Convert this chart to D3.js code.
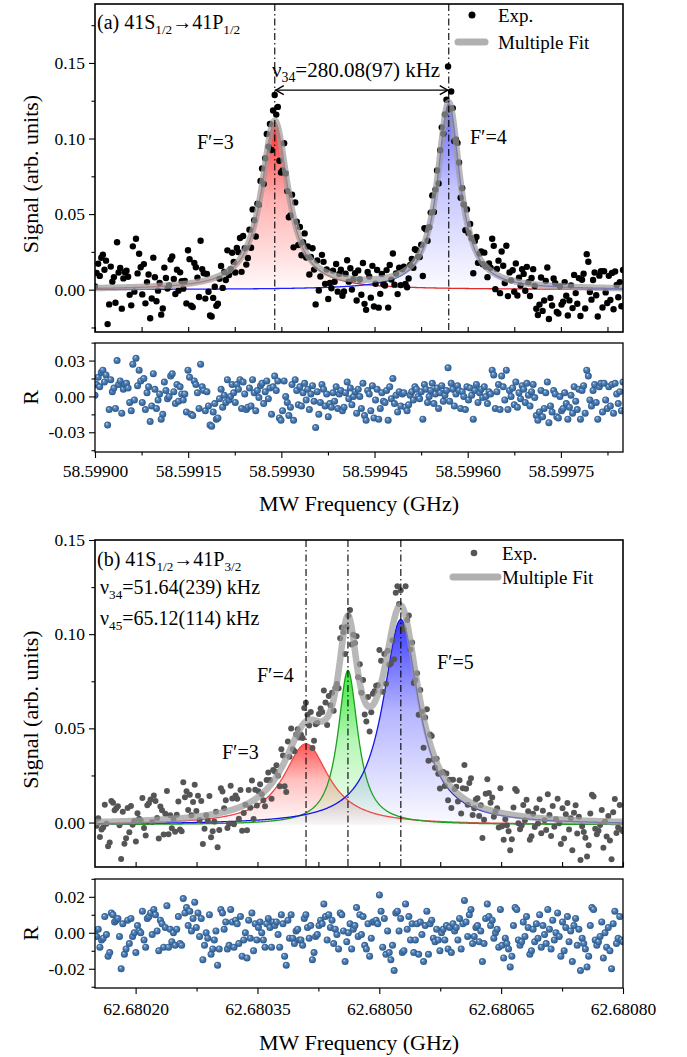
<!DOCTYPE html>
<html>
<head>
<meta charset="utf-8">
<script src="https://cdn.jsdelivr.net/npm/d3@7"></script>
<style>
  body { margin: 0; background: #fff; }
  svg, svg text { font-family: "Liberation Serif", "Times New Roman", serif; }
</style>
</head>
<body>
<div id="chart"></div>
<script>
// ---------- panel (a): 41S1/2 -> 41P1/2 ----------
const xDomainA = [58.59900, 58.59985];          // sweep range (GHz)
const yDomainA = [-0.028, 0.189];
const resDomainA = [-0.0465, 0.0447];
const centersA = [58.5992894, 58.5995695];       // F'=3, F'=4
const ampsA = [0.111, 0.123];
const hwhmA = [0.000026, 0.000022];
const baseA = 0.0;
const xTicksA = [58.59900, 58.59915, 58.59930, 58.59945, 58.59960, 58.59975];
const xMinorA = [58.599075, 58.599225, 58.599375, 58.599525, 58.599675, 58.599825];
const yTicksA = [0.00, 0.05, 0.10, 0.15];
const yMinorA = [-0.025, 0.025, 0.075, 0.125, 0.175];
const rTicksA = [-0.03, 0.00, 0.03];
const rMinorA = [-0.045, -0.015, 0.015, 0.045];
// residuals (exp - fit), in units of 1e-3
const resA = [
  1,10,16,8,20,22,12,18,-24,-11,14,4,7,-10,30,10,13,-14,6,10,11,7,-5,-12,27,-3,32,9,
  22,13,-5,15,-11,3,8,-21,-8,19,6,-10,-3,2,-19,-15,12,5,-2,0,17,19,4,-6,10,-4,8,2,
  -3,2,-13,22,16,-15,-16,13,10,3,-10,27,8,5,-12,4,-8,-24,-25,-13,-6,-19,-18,-2,6,-9,1,-5,
  14,-3,0,10,3,-5,10,6,14,-10,12,2,-11,-9,7,-8,14,3,-12,5,-1,9,11,-6,4,13,-2,7,
  -15,8,17,5,13,-18,-20,-12,13,0,-5,-16,-9,10,-20,14,5,-7,8,-8,3,11,-3,6,-11,2,9,-4,
  -26,4,-15,-5,10,6,-8,2,-17,-6,-9,3,-4,8,-10,2,5,-12,-9,3,12,-2,7,-7,0,4,-14,6,
  0,-10,11,-16,-20,5,2,-12,9,-18,-3,6,-19,-10,3,-4,-5,5,-20,8,-2,15,-6,1,-13,4,-8,2,
  3,-9,-12,-7,1,4,-3,8,6,0,-2,4,-19,10,6,-5,0,5,11,-6,2,7,-10,3,9,-4,1,5,
  24,-4,11,6,-8,2,9,5,-10,4,0,-11,8,-3,7,1,-19,5,10,-5,3,6,-1,8,0,-6,4,2,
  22,18,-10,4,10,-11,17,8,-3,22,-11,5,0,7,-7,12,-9,3,-2,9,6,-5,11,1,-8,4,10,-1,
  -16,-20,-13,5,-17,-10,3,12,-22,-8,-13,5,2,-17,-18,0,-12,-10,3,-6,-19,-9,1,-14,8,-4,-11,6,
  -19,5,9,-14,22,17,-3,-8,5,10,-5,-19,8,11,-13,11,-3,-10,8,-8,10,-14,11,2,-6,4,-12,12
];

// ---------- panel (b): 41S1/2 -> 41P3/2 ----------
const xDomainB = [62.68015, 62.68080];
const yDomainB = [-0.0236, 0.15];
const resDomainB = [-0.0307, 0.0299];
const centersB = [62.6804098, 62.6804614, 62.6805265];   // F'=3, F'=4, F'=5
const ampsB = [0.043, 0.082, 0.109];
const hwhmB = [0.000034, 0.000015, 0.000027];
const baseB = -0.0012;
const xTicksB = [62.68020, 62.68035, 62.68050, 62.68065, 62.68080];
const xMinorB = [62.680275, 62.680425, 62.680575, 62.680725];
const yTicksB = [0.00, 0.05, 0.10, 0.15];
const yMinorB = [0.025, 0.075, 0.125];
const rTicksB = [-0.02, 0.00, 0.02];
const rMinorB = [-0.03, -0.01, 0.01, 0.03];
const resB = [
  1,-2,2,-8,-4,-3,9,-1,-13,-11,11,10,6,7,8,-2,-20,5,-12,-9,7,-6,8,-2,0,-11,4,
  1,0,12,-4,-8,8,9,11,-1,13,10,1,-10,7,5,-8,3,15,-8,2,-5,0,-7,2,9,-6,-7,
  19,11,14,4,12,1,8,17,3,11,-2,8,-15,-7,0,-3,10,-12,-9,-4,1,-18,-9,13,11,2,6,
  -9,-7,13,6,-8,7,5,-6,9,-13,-4,0,-14,7,-3,11,-10,5,-4,3,6,0,-4,-8,5,8,3,
  -8,6,4,6,-1,-8,10,5,-13,-18,7,-3,10,-3,-6,1,2,-4,-4,-7,8,10,3,-3,4,-15,-11,
  -2,-1,4,7,5,16,9,-4,10,3,7,-6,2,-1,-9,11,10,1,-16,-5,0,5,-9,2,4,14,-2,
  10,-1,9,-7,-9,5,-13,-3,6,6,7,5,21,12,-8,8,-12,1,-11,-15,-7,-21,11,12,1,8,-11,
  -10,16,2,9,-4,5,-11,-4,5,-12,6,-1,-16,4,12,-12,5,7,-3,-5,2,-4,-10,0,2,-4,4,
  -9,3,-11,5,1,3,-4,8,-9,5,18,6,-2,10,13,-6,-2,3,4,-5,1,-16,-6,8,16,9,4,
  7,-3,0,2,-8,13,-7,-14,-3,-6,-9,-19,-13,4,14,13,-4,-7,-5,6,-2,9,3,-12,-10,2,-5,
  5,-3,10,-8,4,-1,-6,13,2,-9,7,-4,0,11,-2,-13,6,-10,3,9,-5,1,-16,4,8,-7,2,
  -21,-3,-6,-9,-19,-13,4,14,13,-4,-7,-5,-2,6,-14,0,-8,3,-10,-20,5,12,-6,-3,9,-4,-5
];

// ---------- layout ----------
const W = 687, H = 1057;
const LEFT = 95, RIGHT = 623;
const FONT = 17.5;
const SERIF = "'Liberation Serif', 'Times New Roman', serif";

const svg = d3.select("#chart").append("svg").attr("width", W).attr("height", H);
const defs = svg.append("defs");

// shaded sphere for residual points
const ball = defs.append("radialGradient").attr("id", "ball")
  .attr("cx", "50%").attr("cy", "50%").attr("r", "50%").attr("fx", "35%").attr("fy", "30%");
ball.append("stop").attr("offset", "0%").attr("stop-color", "#e4edf7");
ball.append("stop").attr("offset", "30%").attr("stop-color", "#5b8cc2");
ball.append("stop").attr("offset", "100%").attr("stop-color", "#2a5688");

function lorentz(f, c, a, g) {
  return a * g * g / ((f - c) * (f - c) + g * g);
}

function richText(g, x, y, parts, size) {
  const t = g.append("text").attr("x", x).attr("y", y).style("font-size", size + "px");
  let shifted = false;
  parts.forEach(p => {
    const span = t.append("tspan").text(p[0]);
    if (p[1] && !shifted) { span.attr("dy", size * 0.25).style("font-size", (size * 0.66) + "px"); shifted = true; }
    else if (!p[1] && shifted) { span.attr("dy", -size * 0.25); shifted = false; }
  });
  return t;
}

function drawPanel(p, lay) {
  const x = d3.scaleLinear().domain(p.xDomain).range([LEFT, RIGHT]);
  const y = d3.scaleLinear().domain(p.yDomain).range([lay.bottom, lay.top]);
  const yr = d3.scaleLinear().domain(p.resDomain).range([lay.rBottom, lay.rTop]);
  const g = svg.append("g");

  const n = p.res.length;
  const step = (p.xDomain[1] - p.xDomain[0]) / (n - 1);
  const fit = f => p.base + d3.sum(p.centers, (c, k) => lorentz(f, c, p.amps[k], p.hwhm[k]));
  const pts = p.res.map((r, i) => {
    const f = p.xDomain[0] + i * step;
    return { f: f, r: r / 1000, v: fit(f) + r / 1000 };
  });
  const grid = d3.range(0, 801).map(i => p.xDomain[0] + i * (p.xDomain[1] - p.xDomain[0]) / 800);

  defs.append("clipPath").attr("id", "clip" + p.id).append("rect")
    .attr("x", LEFT).attr("y", lay.top).attr("width", RIGHT - LEFT).attr("height", lay.bottom - lay.top);
  defs.append("clipPath").attr("id", "rclip" + p.id).append("rect")
    .attr("x", LEFT).attr("y", lay.rTop).attr("width", RIGHT - LEFT).attr("height", lay.rBottom - lay.rTop);

  const plot = g.append("g").attr("clip-path", "url(#clip" + p.id + ")");

  // component fills
  p.centers.forEach((c, k) => {
    const gid = "grad" + p.id + k;
    const grad = defs.append("linearGradient").attr("id", gid)
      .attr("x1", 0).attr("y1", 0).attr("x2", 0).attr("y2", 1);
    grad.append("stop").attr("offset", "0%").attr("stop-color", p.fillColors[k]).attr("stop-opacity", 0.95);
    grad.append("stop").attr("offset", "45%").attr("stop-color", p.fillColors[k]).attr("stop-opacity", 0.35);
    grad.append("stop").attr("offset", "100%").attr("stop-color", p.fillColors[k]).attr("stop-opacity", 0.02);
    const comp = f => p.base + lorentz(f, c, p.amps[k], p.hwhm[k]);
    plot.append("path").datum(grid)
      .attr("d", d3.area().x(f => x(f)).y0(y(p.base)).y1(f => y(comp(f))))
      .attr("fill", "url(#" + gid + ")");
  });
  p.centers.forEach((c, k) => {
    const comp = f => p.base + lorentz(f, c, p.amps[k], p.hwhm[k]);
    plot.append("path").datum(grid)
      .attr("d", d3.line().x(f => x(f)).y(f => y(comp(f))))
      .attr("fill", "none").attr("stroke", p.lineColors[k]).attr("stroke-width", 1.3);
  });

  // experimental points
  plot.selectAll(".exp").data(pts).enter().append("circle")
    .attr("cx", d => x(d.f)).attr("cy", d => y(d.v)).attr("r", p.dotR)
    .attr("fill", p.dotColor);

  // multiple fit
  plot.append("path").datum(grid)
    .attr("d", d3.line().x(f => x(f)).y(f => y(fit(f))))
    .attr("fill", "none").attr("stroke", "#9c9c9c").attr("stroke-opacity", 0.72)
    .attr("stroke-width", 6.5).attr("stroke-linejoin", "round");

  // dash-dot markers at line centres
  p.centers.forEach(c => {
    g.append("line").attr("x1", x(c)).attr("x2", x(c)).attr("y1", lay.top).attr("y2", lay.bottom)
      .attr("stroke", "#000").attr("stroke-width", 1.1).attr("stroke-dasharray", "7,3,1.5,3");
  });

  // frames
  g.append("rect").attr("x", LEFT).attr("y", lay.top).attr("width", RIGHT - LEFT).attr("height", lay.bottom - lay.top)
    .attr("fill", "none").attr("stroke", "#000").attr("stroke-width", 1.6);

  // main axes
  g.append("g").attr("transform", "translate(0," + lay.bottom + ")")
    .call(d3.axisBottom(x).tickValues(p.xTicks.concat(p.xMinor)).tickSize(-5).tickFormat(""))
    .call(a => a.select(".domain").remove());
  g.append("g").attr("transform", "translate(" + LEFT + ",0)")
    .call(d3.axisLeft(y).tickValues(p.yTicks).tickSize(6).tickPadding(4).tickFormat(d3.format(".2f")))
    .call(a => a.select(".domain").remove());
  g.append("g").attr("transform", "translate(" + LEFT + ",0)")
    .call(d3.axisLeft(y).tickValues(p.yMinor).tickSize(3.5).tickFormat(""))
    .call(a => a.select(".domain").remove());

  // residual panel
  const rp = g.append("g").attr("clip-path", "url(#rclip" + p.id + ")");
  rp.selectAll(".res").data(pts).enter().append("circle")
    .attr("cx", d => x(d.f)).attr("cy", d => yr(d.r)).attr("r", 3.5)
    .attr("fill", "url(#ball)");
  g.append("rect").attr("x", LEFT).attr("y", lay.rTop).attr("width", RIGHT - LEFT).attr("height", lay.rBottom - lay.rTop)
    .attr("fill", "none").attr("stroke", "#000").attr("stroke-width", 1.3);
  g.append("g").attr("transform", "translate(0," + lay.rBottom + ")")
    .call(d3.axisBottom(x).tickValues(p.xTicks).tickSize(6).tickPadding(p.xPad).tickFormat(d3.format(".5f")))
    .call(a => a.select(".domain").remove());
  g.append("g").attr("transform", "translate(0," + lay.rBottom + ")")
    .call(d3.axisBottom(x).tickValues(p.xMinor).tickSize(3.5).tickFormat(""))
    .call(a => a.select(".domain").remove());
  g.append("g").attr("transform", "translate(" + LEFT + ",0)")
    .call(d3.axisLeft(yr).tickValues(p.rTicks).tickSize(6).tickPadding(4)
      .tickFormat(d => d === 0 ? "0.00" : d3.format(".2f")(d).replace("\u2212", "-")))
    .call(a => a.select(".domain").remove());
  g.append("g").attr("transform", "translate(" + LEFT + ",0)")
    .call(d3.axisLeft(yr).tickValues(p.rMinor).tickSize(3.5).tickFormat(""))
    .call(a => a.select(".domain").remove());

  g.selectAll(".tick text").style("font-size", FONT + "px").attr("fill", "#000");
  g.selectAll(".tick line").attr("stroke", "#000").attr("stroke-width", 1.1);

  // axis titles
  g.append("text").attr("transform", "translate(38," + ((lay.top + lay.bottom) / 2 + 6) + ") rotate(-90)")
    .attr("text-anchor", "middle").style("font-size", "22px").text("Signal (arb. units)");
  g.append("text").attr("transform", "translate(38," + ((lay.rTop + lay.rBottom) / 2) + ") rotate(-90)")
    .attr("text-anchor", "middle").style("font-size", "22px").text("R");
  g.append("text").attr("x", (LEFT + RIGHT) / 2).attr("y", lay.rBottom + p.titleGap)
    .attr("text-anchor", "middle").style("font-size", "22px").text("MW Frequency (GHz)");

  // legend
  const lg = g.append("g");
  lg.append("circle").attr("cx", p.legend.dotX).attr("cy", lay.top + p.legend.y1).attr("r", p.dotR + 0.3).attr("fill", p.dotColor);
  lg.append("text").attr("x", p.legend.textX).attr("y", lay.top + p.legend.y1 + 6.5).style("font-size", "19px").text("Exp.");
  lg.append("line").attr("x1", p.legend.lineX[0]).attr("x2", p.legend.lineX[1])
    .attr("y1", lay.top + p.legend.y2).attr("y2", lay.top + p.legend.y2)
    .attr("stroke", "#9c9c9c").attr("stroke-opacity", 0.8).attr("stroke-width", 7).attr("stroke-linecap", "round");
  lg.append("text").attr("x", p.legend.textX).attr("y", lay.top + p.legend.y2 + 6.5).style("font-size", "19px").text("Multiple Fit");

  return { x: x, y: y, g: g };
}

const panelA = {
  id: "a", xDomain: xDomainA, yDomain: yDomainA, resDomain: resDomainA,
  centers: centersA, amps: ampsA, hwhm: hwhmA, base: baseA, res: resA,
  xTicks: xTicksA, xMinor: xMinorA, yTicks: yTicksA, yMinor: yMinorA, rTicks: rTicksA, rMinor: rMinorA,
  fillColors: ["#ff1e1e", "#5a5aff"], lineColors: ["#e02a2a", "#2020ff"],
  dotColor: "#000", dotR: 3.2, xPad: 7, titleGap: 59,
  legend: { dotX: 472, textX: 498, lineX: [458, 485], y1: 11, y2: 38 }
};
const panelB = {
  id: "b", xDomain: xDomainB, yDomain: yDomainB, resDomain: resDomainB,
  centers: centersB, amps: ampsB, hwhm: hwhmB, base: baseB, res: resB,
  xTicks: xTicksB, xMinor: xMinorB, yTicks: yTicksB, yMinor: yMinorB, rTicks: rTicksB, rMinor: rMinorB,
  fillColors: ["#ff4a4a", "#2fe62f", "#2d2dff"], lineColors: ["#f04848", "#1f9f1f", "#1414e6"],
  dotColor: "#555", dotR: 3.0, xPad: 9, titleGap: 62,
  legend: { dotX: 474, textX: 502, lineX: [453, 498], y1: 13, y2: 37 }
};

const layA = { top: 4, bottom: 332, rTop: 343, rBottom: 452 };
const layB = { top: 540, bottom: 867, rTop: 879, rBottom: 988 };

const A = drawPanel(panelA, layA);
const B = drawPanel(panelB, layB);

// ---------- annotations panel (a) ----------
richText(A.g, 97, 29, [["(a) 41S"], ["1/2", true], ["\u219241P"], ["1/2", true]], 20);
richText(A.g, 272, 77, [["\u03bd"], ["34", true], ["=280.08(97) kHz"]], 21);
A.g.append("text").attr("x", 197).attr("y", 149).style("font-size", "20px").text("F\u2032=3");
A.g.append("text").attr("x", 470).attr("y", 144).style("font-size", "20px").text("F\u2032=4");

// double arrow between the two centres
const ay = A.y(0.132), ax1 = A.x(centersA[0]), ax2 = A.x(centersA[1]);
A.g.append("line").attr("x1", ax1).attr("x2", ax2).attr("y1", ay).attr("y2", ay)
  .attr("stroke", "#000").attr("stroke-width", 1.3);
A.g.append("path").attr("d", `M${ax1 + 9},${ay - 4.5} L${ax1 + 1},${ay} L${ax1 + 9},${ay + 4.5}`)
  .attr("fill", "none").attr("stroke", "#000").attr("stroke-width", 1.4);
A.g.append("path").attr("d", `M${ax2 - 9},${ay - 4.5} L${ax2 - 1},${ay} L${ax2 - 9},${ay + 4.5}`)
  .attr("fill", "none").attr("stroke", "#000").attr("stroke-width", 1.4);

// ---------- annotations panel (b) ----------
richText(B.g, 97, 566, [["(b) 41S"], ["1/2", true], ["\u219241P"], ["3/2", true]], 20);
richText(B.g, 100, 594, [["\u03bd"], ["34", true], ["=51.64(239) kHz"]], 20);
richText(B.g, 100, 625, [["\u03bd"], ["45", true], ["=65.12(114) kHz"]], 20);
B.g.append("text").attr("x", 222).attr("y", 759).style("font-size", "20px").text("F\u2032=3");
B.g.append("text").attr("x", 257).attr("y", 682).style("font-size", "20px").text("F\u2032=4");
B.g.append("text").attr("x", 437).attr("y", 669).style("font-size", "20px").text("F\u2032=5");

// serif everywhere (axis groups default to sans-serif)
svg.selectAll("g").attr("font-family", null);
svg.selectAll("text").style("font-family", SERIF);
</script>
</body>
</html>
